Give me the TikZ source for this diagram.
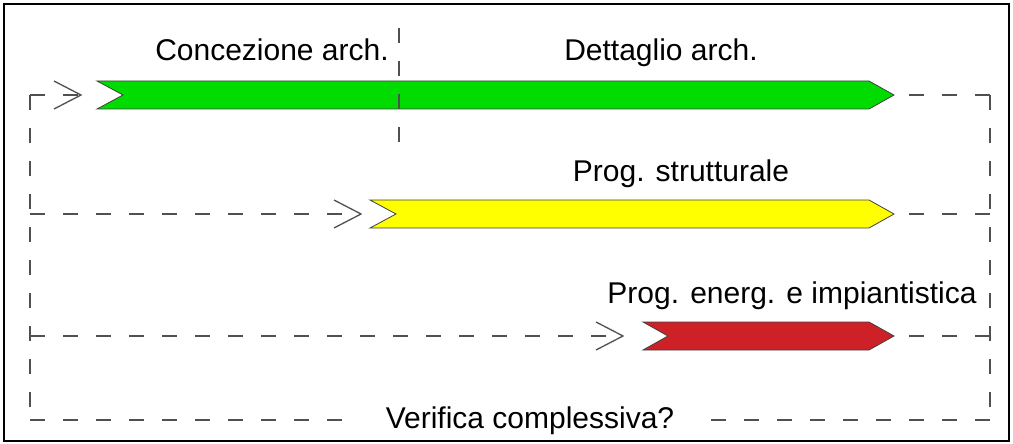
\documentclass[tikz,border=0pt]{standalone}
\usepackage{fontspec}
\setmainfont{Liberation Sans}
\definecolor{linegray}{HTML}{505050}
\definecolor{barGreen}{HTML}{00DC00}
\definecolor{barYellow}{HTML}{FFFF00}
\definecolor{barRed}{HTML}{CD2027}
\begin{document}
\begin{tikzpicture}[x=1pt,y=-1pt,
  flow/.style={draw=linegray, line width=1.3pt, dash pattern=on 15pt off 18pt},
  chev/.pic={\draw[linegray, line width=1.3pt, line join=miter] (-27,-14) -- (0,0) -- (-27,14);},
  bar/.style={draw=black!75, line width=0.8pt, line join=miter},
  lbl/.style={font=\fontsize{30}{36}\selectfont, anchor=base, inner sep=0pt}]
\useasboundingbox (0,0) rectangle (1013,444);
\draw[line width=2.8pt] (4,4) rectangle (1009,441);

% corners of the feedback loop
\coordinate (L1) at (30,95);
\coordinate (L2) at (30,214);
\coordinate (L3) at (30,336);
\coordinate (L4) at (30,420);
\coordinate (R1) at (990,95);
\coordinate (R2) at (990,214);
\coordinate (R3) at (990,336);
\coordinate (R4) at (990,420);

% arrow entry points and bar tips
\coordinate (gin) at (81,95);
\coordinate (yin) at (361,214);
\coordinate (rin) at (623,336);
\coordinate (gout) at (894,95);
\coordinate (yout) at (894,214);
\coordinate (rout) at (894,336);

% bars
\draw[bar, fill=barGreen] (97,81) -- (869,81) -- (gout) -- (869,109) -- (97,109) -- (123,95) -- cycle;
\draw[bar, fill=barYellow] (370,200) -- (869,200) -- (yout) -- (869,228) -- (370,228) -- (396,214) -- cycle;
\draw[bar, fill=barRed] (643,322) -- (869,322) -- (rout) -- (869,350) -- (643,350) -- (668,336) -- cycle;

% phase separator
\coordinate (sepT) at (399,28);
\coordinate (sepB) at (399,146);
\draw[flow] (sepT) -- (sepB);

% labels
\node[lbl] (t1) at (272,61) {Concezione arch.};
\node[lbl] (t2) at (661,61) {Dettaglio arch.};
\node[lbl] (t3) at (681,181) {Prog. strutturale};
\node[lbl] (t4) at (792,303) {Prog. energ. e impiantistica};
\node[lbl] (ver) at (530,428) {Verifica complessiva?};

% feedback loop
\draw[flow] (L1) -- (L4);
\draw[flow] (R1) -- (R4);
\draw[flow] (L1) -- (gin);
\draw[flow] (L2) -- (yin);
\draw[flow] (L3) -- (rin);
\pic at (gin) {chev};
\pic at (yin) {chev};
\pic at (rin) {chev};
\draw[flow] (R1) -- (gout);
\draw[flow] (R2) -- (yout);
\draw[flow] (R3) -- (rout);
\draw[flow] (L4) -- ([xshift=-32pt]ver.west |- L4);
\draw[flow] (R4) -- ([xshift=34pt]ver.east |- R4);
\end{tikzpicture}
\end{document}
